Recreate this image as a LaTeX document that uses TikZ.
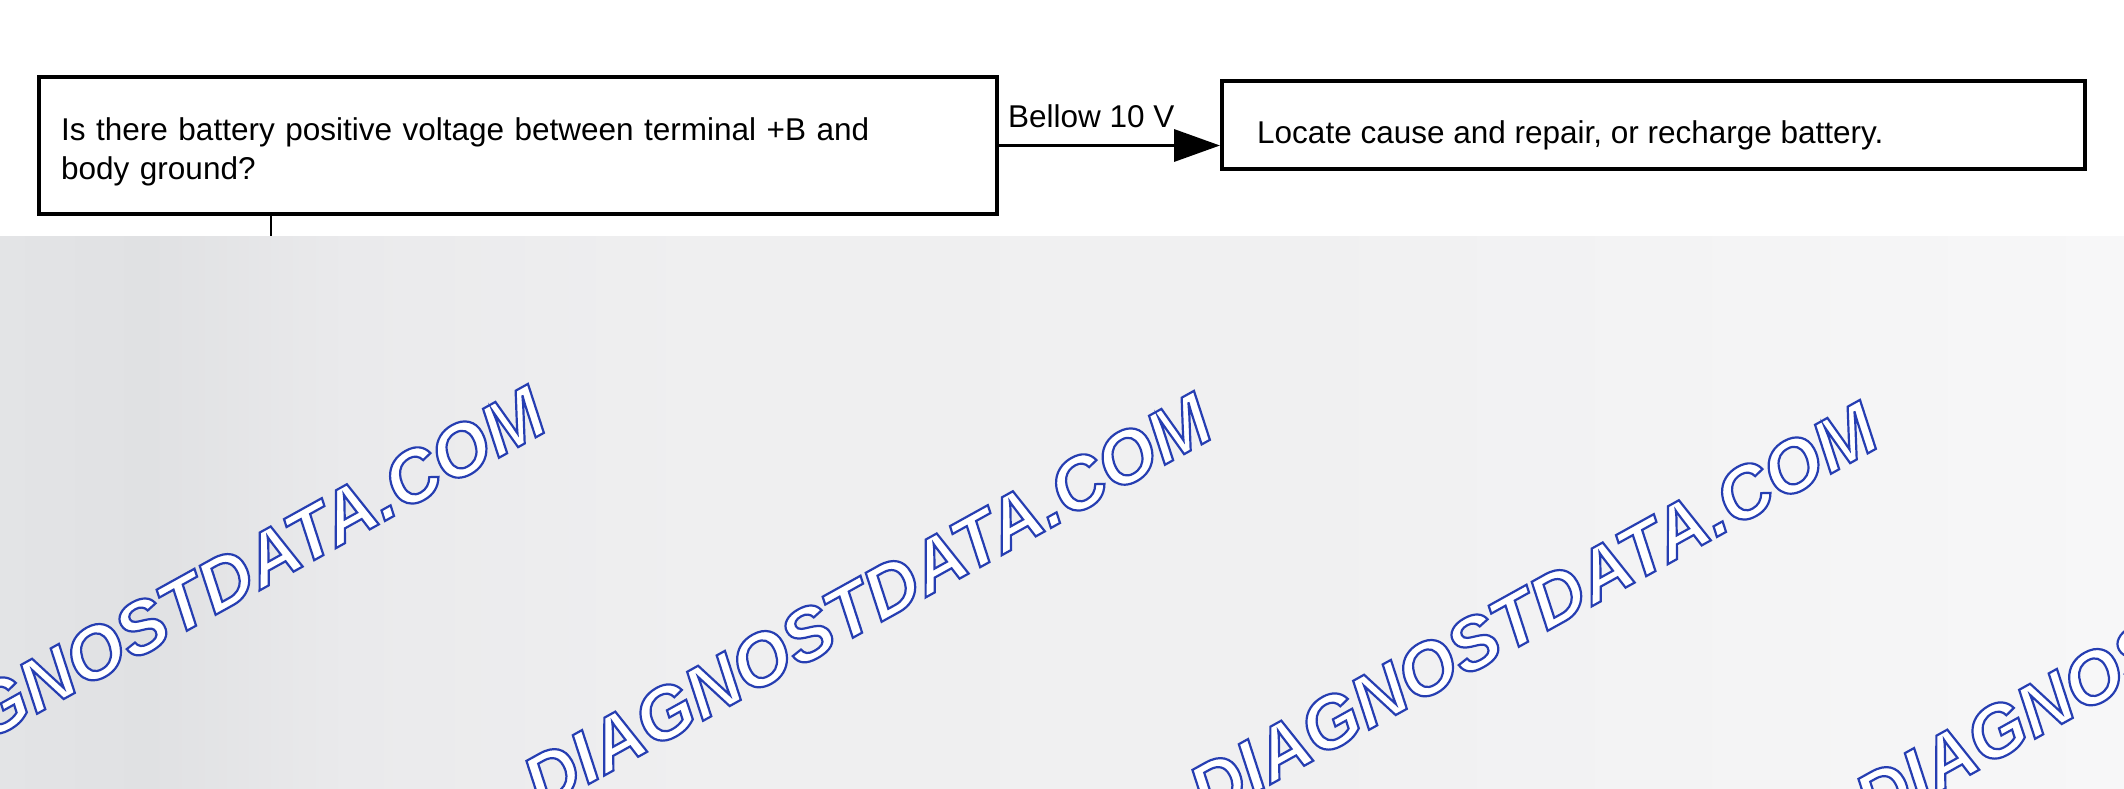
\documentclass[tikz,border=0pt]{standalone}
\usepackage{fontspec}
\setmainfont{Liberation Sans}
\usetikzlibrary{arrows.meta}
\definecolor{wmblue}{RGB}{38,62,178}
\definecolor{c0}{RGB}{227,228,230}
\definecolor{c1}{RGB}{224,225,227}
\definecolor{c2}{RGB}{234,234,236}
\definecolor{c3}{RGB}{239,239,240}
\definecolor{c4}{RGB}{240,240,241}
\definecolor{c5}{RGB}{247,247,248}
\pgfdeclarehorizontalshading{bgshade}{100bp}{color(0bp)=(c0); color(25bp)=(c0);
  color(28.5bp)=(c1); color(33.2bp)=(c2); color(41.5bp)=(c3); color(55.6bp)=(c4);
  color(75bp)=(c5); color(100bp)=(c5)}
\tikzset{
  boxnode/.style={draw=black, line width=4bp, inner sep=0bp},
  boxtext/.style={inner sep=0bp, align=left, font=\fontsize{31.5bp}{39bp}\selectfont},
  lbltext/.style={inner sep=0bp, font=\fontsize{31.5bp}{39bp}\selectfont},
  wmtext/.style={inner sep=0bp, rotate=29, text=white,
    font=\fontsize{73.5bp}{73.5bp}\selectfont\bfseries\itshape},
  conn/.style={line width=3.5bp, -{Triangle[length=46bp,width=32bp]}},
  stem/.style={line width=2.5bp}
}
\newcommand{\wmtxt}{\special{pdf:literal direct 2 Tr 2.2 w 0.149 0.243 0.698 RG}DIAGNOSTDATA.COM\special{pdf:literal direct 0 Tr}}
\begin{document}
\begin{tikzpicture}[x=1bp,y=-1bp]
\useasboundingbox (0,0) rectangle (2124,789);
\fill[white] (0,0) rectangle (2124,789);
% gray lower band
\shade[shading=bgshade] (0,236) rectangle (2124,789);
\begin{scope}
  \clip (0,236) rectangle (2124,789);
  \node[wmtext] (wma) at (201,594) {\wmtxt};
  \node[wmtext] (wmb) at (867,601) {\wmtxt};
  \node[wmtext] (wmc) at (1533,610) {\wmtxt};
  \node[wmtext] (wmd) at (2199,619) {\wmtxt};
\end{scope}
% flowchart
\node[boxnode, minimum width=958bp, minimum height=137bp] (q) at (518,145.5) {};
\node[boxtext, anchor=base west, text width=920bp] (qt) at (61,140)
  {Is there battery positive voltage between terminal +B and\\body ground?};
\node[boxnode, minimum width=863bp, minimum height=88bp] (a) at (1653.5,125) {};
\node[boxtext, anchor=base west] (at) at (1257,143) {Locate cause and repair, or recharge battery.};
\draw[conn] (q.east) -- (q.east -| a.west);
\node[lbltext, anchor=base west] (lbl) at (1008,127) {Bellow 10 V};
\coordinate (stemend) at (271,236);
\draw[stem] (q.south -| stemend) -- (stemend);
\end{tikzpicture}
\end{document}
